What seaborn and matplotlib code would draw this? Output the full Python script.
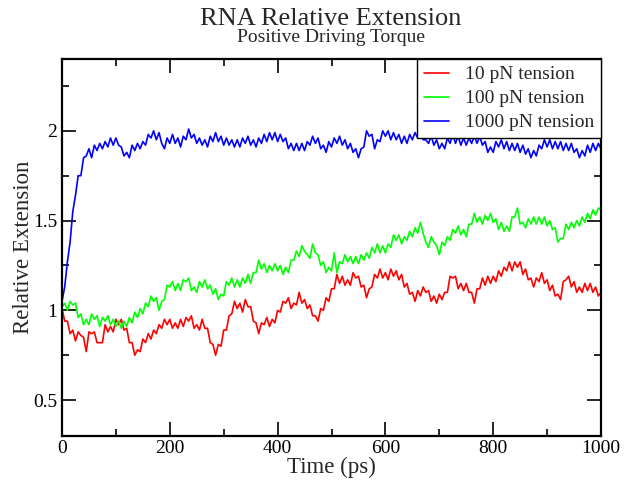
import numpy as np
import pandas as pd
import matplotlib
matplotlib.use("Agg")
import matplotlib.pyplot as plt
import seaborn as sns
from matplotlib.ticker import MultipleLocator

# time grid (ps), one sample every 5 ps
time_ps = np.linspace(0, 1000, 201)

ext_10pN = [
    1.01, 0.94, 0.94, 0.87, 0.89, 0.83, 0.88, 0.86, 0.85, 0.77,
    0.88, 0.87, 0.88, 0.82, 0.82, 0.82, 0.92, 0.88, 0.91, 0.88,
    0.95, 0.92, 0.95, 0.89, 0.90, 0.82, 0.82, 0.75, 0.78, 0.77,
    0.84, 0.82, 0.87, 0.84, 0.89, 0.87, 0.92, 0.90, 0.95, 0.92,
    0.95, 0.90, 0.93, 0.90, 0.95, 0.91, 0.96, 0.94, 0.97, 0.90,
    0.92, 0.89, 0.95, 0.90, 0.90, 0.82, 0.81, 0.75, 0.81, 0.80,
    0.89, 0.89, 0.97, 0.98, 1.05, 1.01, 1.04, 0.99, 1.06, 1.02,
    1.02, 0.94, 0.93, 0.87, 0.93, 0.92, 0.96, 0.91, 0.95, 0.93,
    1.00, 0.99, 1.05, 1.04, 1.07, 1.01, 1.04, 1.03, 1.10, 1.04,
    1.06, 1.01, 1.03, 0.97, 0.97, 0.94, 1.01, 1.00, 1.07, 1.05,
    1.12, 1.12, 1.20, 1.15, 1.19, 1.14, 1.17, 1.14, 1.21, 1.18,
    1.19, 1.13, 1.14, 1.07, 1.12, 1.13, 1.20, 1.18, 1.23, 1.18,
    1.21, 1.17, 1.23, 1.19, 1.22, 1.17, 1.20, 1.13, 1.15, 1.09,
    1.10, 1.05, 1.11, 1.08, 1.13, 1.10, 1.11, 1.05, 1.08, 1.04,
    1.09, 1.06, 1.10, 1.10, 1.19, 1.18, 1.19, 1.12, 1.15, 1.11,
    1.15, 1.10, 1.10, 1.04, 1.12, 1.12, 1.18, 1.14, 1.19, 1.15,
    1.19, 1.16, 1.22, 1.19, 1.24, 1.22, 1.27, 1.22, 1.27, 1.24,
    1.27, 1.20, 1.23, 1.17, 1.18, 1.13, 1.18, 1.16, 1.21, 1.15,
    1.17, 1.11, 1.14, 1.08, 1.09, 1.06, 1.16, 1.17, 1.19, 1.13,
    1.16, 1.10, 1.13, 1.10, 1.15, 1.11, 1.15, 1.10, 1.13, 1.08,
    1.10,
]

ext_100pN = [
    1.02, 1.04, 1.00, 1.05, 1.03, 1.04, 0.96, 0.98, 0.92, 0.95,
    0.92, 0.98, 0.95, 0.97, 0.91, 0.96, 0.94, 0.97, 0.92, 0.95,
    0.91, 0.94, 0.90, 0.94, 0.91, 0.96, 0.93, 0.99, 0.96, 1.01,
    0.98, 1.04, 1.02, 1.08, 1.05, 1.07, 1.00, 1.05, 1.06, 1.14,
    1.13, 1.16, 1.11, 1.15, 1.11, 1.17, 1.16, 1.18, 1.11, 1.13,
    1.10, 1.16, 1.13, 1.17, 1.12, 1.14, 1.09, 1.12, 1.06, 1.09,
    1.08, 1.16, 1.14, 1.18, 1.13, 1.17, 1.13, 1.18, 1.15, 1.20,
    1.15, 1.21, 1.21, 1.28, 1.23, 1.26, 1.21, 1.25, 1.22, 1.26,
    1.22, 1.25, 1.20, 1.24, 1.21, 1.28, 1.28, 1.33, 1.30, 1.36,
    1.33, 1.31, 1.29, 1.37, 1.32, 1.31, 1.25, 1.27, 1.21, 1.24,
    1.22, 1.32, 1.21, 1.27, 1.26, 1.31, 1.27, 1.30, 1.26, 1.30,
    1.26, 1.31, 1.28, 1.32, 1.29, 1.35, 1.32, 1.37, 1.32, 1.36,
    1.32, 1.37, 1.35, 1.42, 1.39, 1.42, 1.37, 1.41, 1.39, 1.44,
    1.41, 1.46, 1.43, 1.49, 1.43, 1.38, 1.35, 1.41, 1.38, 1.36,
    1.31, 1.38, 1.36, 1.41, 1.39, 1.45, 1.43, 1.47, 1.42, 1.45,
    1.41, 1.48, 1.48, 1.54, 1.49, 1.52, 1.48, 1.53, 1.50, 1.54,
    1.49, 1.51, 1.45, 1.49, 1.44, 1.47, 1.44, 1.52, 1.52, 1.57,
    1.48, 1.49, 1.46, 1.51, 1.48, 1.52, 1.48, 1.52, 1.48, 1.52,
    1.47, 1.50, 1.45, 1.46, 1.38, 1.40, 1.40, 1.48, 1.45, 1.49,
    1.46, 1.50, 1.47, 1.52, 1.49, 1.54, 1.51, 1.56, 1.53, 1.57,
    1.56,
]

ext_1000pN = [
    1.05, 1.13, 1.27, 1.38, 1.55, 1.64, 1.75, 1.75, 1.85, 1.86,
    1.90, 1.85, 1.92, 1.89, 1.93, 1.90, 1.94, 1.91, 1.96, 1.92,
    1.96, 1.92, 1.91, 1.86, 1.88, 1.85, 1.92, 1.89, 1.93, 1.90,
    1.94, 1.92, 1.98, 1.96, 2.00, 1.95, 1.99, 1.93, 1.90, 1.96,
    1.93, 1.98, 1.93, 1.96, 1.91, 1.97, 1.95, 2.01, 1.96, 1.98,
    1.93, 1.96, 1.92, 1.95, 1.91, 1.97, 1.94, 1.99, 1.94, 1.97,
    1.92, 1.96, 1.92, 1.95, 1.91, 1.95, 1.91, 1.96, 1.93, 1.97,
    1.92, 1.95, 1.91, 1.96, 1.93, 1.98, 1.94, 1.99, 1.95, 1.99,
    1.94, 1.98, 1.94, 1.96, 1.90, 1.93, 1.89, 1.93, 1.89, 1.93,
    1.89, 1.94, 1.92, 1.97, 1.93, 1.96, 1.90, 1.92, 1.88, 1.94,
    1.91, 1.96, 1.93, 1.97, 1.92, 1.95, 1.90, 1.93, 1.88, 1.90,
    1.85, 1.90, 1.91, 2.00, 1.97, 1.98, 1.90, 1.95, 1.94, 2.00,
    1.97, 2.00, 1.95, 1.99, 1.95, 1.98, 1.93, 1.97, 1.93, 1.98,
    1.95, 1.99, 1.96, 2.03, 1.95, 1.95, 1.93, 1.97, 1.92, 1.95,
    1.90, 1.93, 1.90, 1.96, 1.93, 1.98, 1.93, 1.97, 1.92, 1.96,
    1.92, 1.96, 1.93, 1.97, 1.93, 1.97, 1.92, 1.94, 1.88, 1.91,
    1.88, 1.94, 1.91, 1.95, 1.90, 1.94, 1.89, 1.93, 1.89, 1.93,
    1.88, 1.92, 1.87, 1.90, 1.85, 1.89, 1.86, 1.92, 1.90, 1.95,
    1.91, 1.95, 1.90, 1.94, 1.90, 1.94, 1.89, 1.93, 1.89, 1.93,
    1.88, 1.90, 1.85, 1.89, 1.86, 1.92, 1.88, 1.93, 1.89, 1.93,
    1.90,
]

series_labels = ["10 pN tension", "100 pN tension", "1000 pN tension"]
series_colors = ["#ff0000", "#00ff00", "#0000ff"]

df = pd.concat([
    pd.DataFrame({"time": time_ps, "ext": vals, "series": lab})
    for vals, lab in zip([ext_10pN, ext_100pN, ext_1000pN], series_labels)
], ignore_index=True)

sns.set_style("ticks")
plt.rcParams["font.family"] = ["Liberation Serif", "DejaVu Serif"]

fig = plt.figure(figsize=(6.26, 4.86), dpi=100)
ax = fig.add_axes([62 / 626, 50 / 486, (601 - 62) / 626, (436 - 59) / 486])

sns.lineplot(data=df, x="time", y="ext", hue="series", hue_order=series_labels,
             palette=dict(zip(series_labels, series_colors)),
             estimator=None, linewidth=1.2, ax=ax)

ax.set_xlim(0, 1000)
ax.set_ylim(0.3, 2.4)
ax.xaxis.set_major_locator(MultipleLocator(200))
ax.xaxis.set_minor_locator(MultipleLocator(100))
ax.yaxis.set_major_locator(MultipleLocator(0.5))
ax.yaxis.set_minor_locator(MultipleLocator(0.25))
ax.set_yticks([0.5, 1, 1.5, 2])
ax.set_yticklabels(["0.5", "1", "1.5", "2"])
ax.tick_params(which="both", direction="in", top=True, right=True,
               labelsize=14, width=1.2, colors="black")
ax.tick_params(axis="x", which="major", pad=3)
ax.tick_params(which="major", length=10)
ax.tick_params(which="minor", length=5)
for sp in ax.spines.values():
    sp.set_linewidth(1.6)
    sp.set_color("black")

ax.set_xlabel("Time (ps)", fontsize=16.5, labelpad=0)
ax.set_ylabel("Relative Extension", fontsize=16.5, labelpad=-1)

fig.text(331 / 626, 1 - 19 / 486, "RNA Relative Extension", ha="center",
         va="center", fontsize=19)
fig.text(331 / 626, 1 - 38 / 486, "Positive Driving Torque", ha="center",
         va="center", fontsize=14)

leg = ax.legend(loc="upper right", bbox_to_anchor=(1.0, 1.0), fontsize=14,
                frameon=True, fancybox=False, edgecolor="black",
                framealpha=1, handlelength=1.3, handletextpad=0.8,
                borderpad=0.35, labelspacing=0.33, borderaxespad=0)
leg.get_frame().set_linewidth(1.0)

fig.savefig("out.png", dpi=100)
